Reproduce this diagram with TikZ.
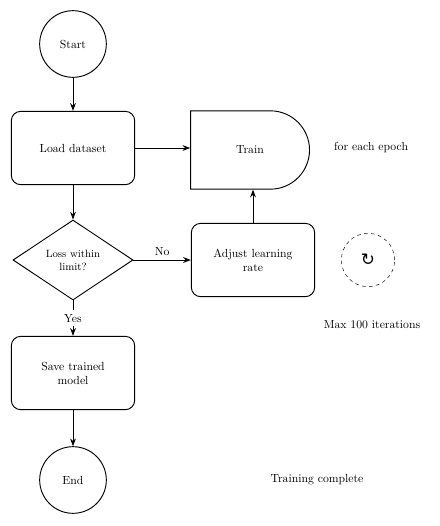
\documentclass[tikz,border=0pt]{standalone}
\usepackage{fontspec}
\usetikzlibrary{shapes.geometric,shapes.misc,arrows.meta}
\newfontfamily\symfont{DejaVu Sans}

\begin{document}
\begin{tikzpicture}[x=0.03cm,y=-0.03cm,
  term/.style={draw,thick,circle,minimum size=2cm,align=center},
  proc/.style={draw,thick,rounded corners=8pt,minimum width=3.7cm,minimum height=2.2cm,align=center},
  loopbox/.style={draw,thick,rounded rectangle,rounded rectangle left arc=none,minimum width=3.8cm,minimum height=2.35cm},
  dec/.style={draw,thick,diamond,aspect=1.6,minimum width=3.6cm,minimum height=2.4cm,align=center,inner sep=1pt,font=\small},
  arr/.style={-Stealth,thick}]
\useasboundingbox (0,0) rectangle (439,526);

% Main column
\node[term] (start) at (73,44) {Start};
\node[proc] (load) at (73,148) {Load dataset};
\node[dec] (check) at (73,260) {Loss within\\ limit?};
\node[proc] (save) at (73,373) {Save trained\\ model};
\node[term] (stop) at (73,480) {End};

% Training loop
\node[loopbox] (train) at (250,150) {Train};
\node[proc] (adjust) at (253,260) {Adjust learning\\ rate};
\node[draw,dashed,circle,minimum size=1.6cm] (icon) at (368,260) {\symfont\Large ↻};

% Notes
\node[anchor=west] (epoch) at (330,148) {for each epoch};
\node (maxnote) at (372,325) {Max 100 iterations};
\node (done) at (317,480) {Training complete};

% Connectors
\draw[arr] (start) -- (load);
\draw[arr] (load) -- (load -| train.west);
\draw[arr] (load) -- (check);
\draw[arr] (check) -- node[above] {No} (check -| adjust.west);
\draw[arr] (adjust.north) -- (adjust.north |- train.south);
\draw[arr] (check) -- node[fill=white] {Yes} (save);
\draw[arr] (save) -- (stop);
\end{tikzpicture}
\end{document}
